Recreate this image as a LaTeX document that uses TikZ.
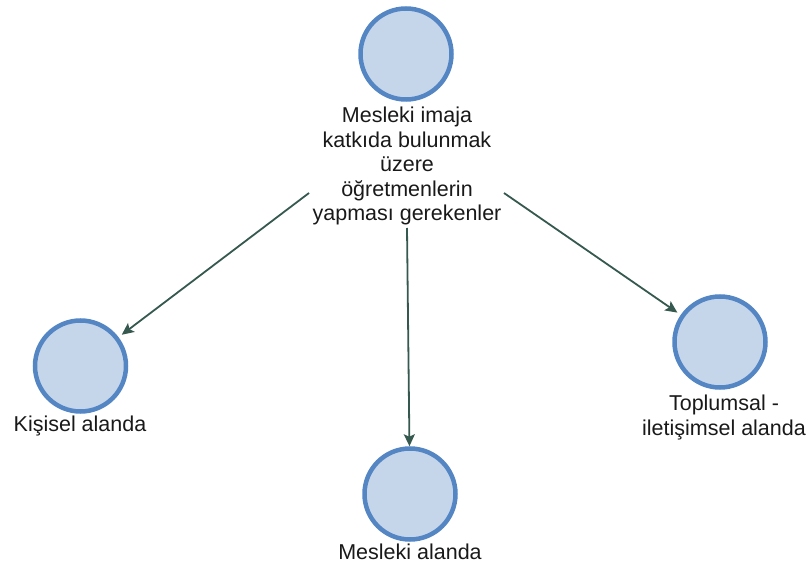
\documentclass[tikz,border=0pt]{standalone}
\usepackage{fontspec}
\setmainfont{Liberation Sans}
\usetikzlibrary{arrows.meta}
\definecolor{circfill}{HTML}{C6D6EA}
\definecolor{circline}{HTML}{5586C4}
\definecolor{arrowcol}{HTML}{35584F}
\tikzset{
  bubble/.style={circle, draw=circline, fill=circfill, line width=4.5pt, minimum size=91pt, inner sep=0pt},
  lbl/.style={align=center, inner sep=0pt, anchor=north, font=\fontsize{21.5}{24.5}\selectfont, text=black!90},
  conn/.style={draw=arrowcol, line width=1.8pt, -{Stealth[length=12pt,width=11pt,inset=2.5pt]}, shorten >=4pt}
}
\begin{document}
\begin{tikzpicture}[x=1pt,y=-1pt]
\useasboundingbox (0,0) rectangle (806,569);
\node[bubble] (top) at (406,54) {};
\node[bubble] (left) at (80.5,366) {};
\node[bubble] (mid) at (410,494) {};
\node[bubble] (right) at (720,342) {};
\node[lbl] (toptxt) at (407,107) {Mesleki imaja\\katkıda bulunmak\\üzere\\öğretmenlerin\\yapması gerekenler};
\node[lbl] (lefttxt) at (80,416) {Kişisel alanda};
\node[lbl] (midtxt) at (410,544) {Mesleki alanda};
\node[lbl] (righttxt) at (724,395) {Toplumsal -\\iletişimsel alanda};
\coordinate (s1) at (309,193);
\coordinate (s2) at (407,228);
\coordinate (s3) at (504,193);
\draw[conn] (s1) -- (left);
\draw[conn, shorten >=0pt] (s2) -- (mid);
\draw[conn] (s3) -- (right);
\end{tikzpicture}
\end{document}
